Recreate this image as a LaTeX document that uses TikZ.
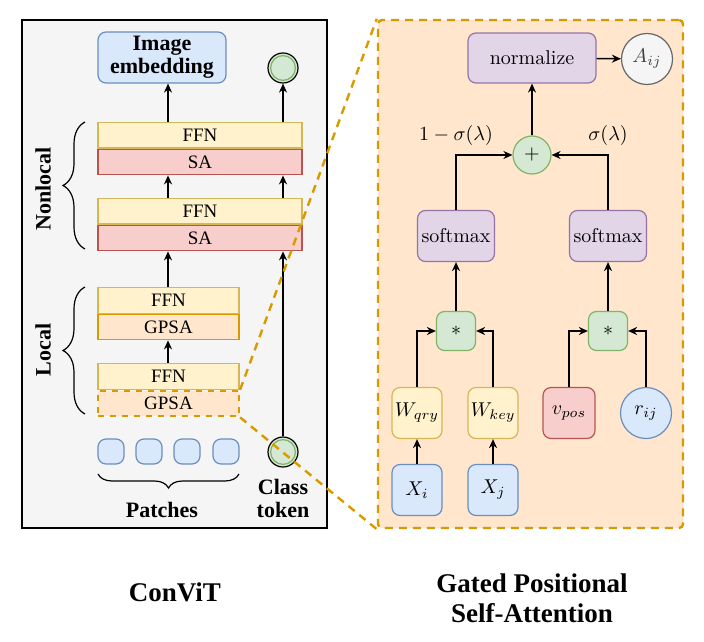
\documentclass[tikz,border=0pt]{standalone}
\usepackage{fontspec}
\newfontfamily\geo{Liberation Serif}
\usetikzlibrary{arrows.meta,decorations.pathreplacing}
\definecolor{ffnfill}{HTML}{FFF2CC}\definecolor{ffnline}{HTML}{D6B656}
\definecolor{safill}{HTML}{F8CECC}\definecolor{saline}{HTML}{B85450}
\definecolor{gpsafill}{HTML}{FFE6CC}\definecolor{gpsaline}{HTML}{D79B00}
\definecolor{bluefill}{HTML}{DAE8FC}\definecolor{blueline}{HTML}{6C8EBF}
\definecolor{tokfill}{HTML}{D5E8D4}\definecolor{tokline}{HTML}{82B366}
\definecolor{purpfill}{HTML}{E1D5E7}\definecolor{purpline}{HTML}{9673A6}
\definecolor{panelfill}{HTML}{F5F5F5}
\begin{document}
\begin{tikzpicture}[x=0.5pt,y=-0.5pt,
  every node/.style={inner sep=0pt},
  arr/.style={-{Stealth[length=4.5pt,width=4pt]},line width=0.7pt},
  blk/.style={draw,line width=0.6pt,anchor=north,minimum height=12.75pt,font=\geo\fontsize{9.5}{10}\selectfont},
  ffn/.style={blk,draw=ffnline,fill=ffnfill},
  sa/.style={blk,draw=saline,fill=safill},
  gpsa/.style={blk,draw=gpsaline,fill=gpsafill},
  lbl/.style={font=\geo\bfseries\fontsize{11}{11.5}\selectfont,align=center},
  tok/.style={circle,draw=black,line width=0.6pt,fill=tokfill,minimum size=15pt,
    path picture={\draw[tokline,line width=0.6pt] (path picture bounding box.center) circle (6.2pt);}},
  rbox/.style={draw,rounded corners=4pt,line width=0.6pt},
  purp/.style={rbox,draw=purpline,fill=purpfill},
  mul/.style={rbox,draw=tokline,fill=tokfill,minimum size=19.5pt},
  inp/.style={rbox,minimum width=25pt,minimum height=25.5pt},
  brc/.style={decorate,line width=0.6pt},
  zoomline/.style={draw=gpsaline,line width=1.2pt,dash pattern=on 4pt off 3pt}]
  \useasboundingbox (0,0) rectangle (704,641);
  \draw[fill=panelfill,line width=0.7pt] (22,20) rectangle (327,528);
  \coordinate (lx) at (168,0);
  \coordinate (rx) at (283,0);
  \node[rbox,draw=blueline,fill=bluefill,minimum width=64pt,minimum height=25.5pt,lbl] (imgemb) at (162,57.5) {Image\\embedding};
  \node[tok] (clsout) at (283,68) {};
  \node[ffn,minimum width=102pt] (ffnA) at (200,122) {FFN};
  \node[sa,minimum width=102pt] (saA) at (ffnA.south) {SA};
  \node[ffn,minimum width=102pt] (ffnB) at (200,198) {FFN};
  \node[sa,minimum width=102pt] (saB) at (ffnB.south) {SA};
  \node[ffn,minimum width=70.5pt] (ffnC) at (168.5,287) {FFN};
  \node[gpsa,minimum width=70.5pt] (gpsaC) at (ffnC.south) {GPSA};
  \node[ffn,minimum width=70.5pt] (ffnD) at (168.5,363) {FFN};
  \node[gpsa,minimum width=70.5pt,dashed,line width=1.1pt] (gpsaD) at (ffnD.south) {GPSA};
  \foreach \i/\x in {1/111,2/149,3/187,4/226}
    \node[rbox,draw=blueline,fill=bluefill,minimum width=13pt,minimum height=12.5pt] (p\i) at (\x,451.5) {};
  \node[tok] (clsin) at (283,452) {};
  \draw[arr] (ffnA.north -| lx) -- (imgemb.south -| lx);
  \draw[arr] (ffnA.north -| rx) -- (clsout.south);
  \draw[arr] (ffnB.north -| lx) -- (saA.south -| lx);
  \draw[arr] (ffnB.north -| rx) -- (saA.south -| rx);
  \draw[arr] (ffnC.north -| lx) -- (saB.south -| lx);
  \draw[arr] (ffnD.north -| lx) -- (gpsaC.south -| lx);
  \draw[arr] (clsin.north) -- (saB.south -| rx);
  \draw[brc,decoration={brace,amplitude=11pt}] (85,249) -- (85,122);
  \draw[brc,decoration={brace,amplitude=11pt}] (85,414) -- (85,287);
  \draw[brc,decoration={brace,amplitude=7pt}] (239,474) -- (98,474);
  \node[lbl,rotate=90] (nonlocal) at (43,189) {Nonlocal};
  \node[lbl,rotate=90] (local) at (43,350) {Local};
  \node[lbl] (patches) at (162,510) {Patches};
  \node[lbl] (clslbl) at (283,498.5) {Class\\token};
  \node[draw=gpsaline,fill=gpsafill,line width=1.2pt,dash pattern=on 4pt off 3pt,rounded corners=2pt,
    minimum width=152.5pt,minimum height=254pt] (gpsabox) at (530.5,274) {};
  \draw[zoomline] (gpsaD.north east) -- (gpsabox.north west);
  \draw[zoomline] (gpsaD.south east) -- (gpsabox.south west);
  \node[purp,minimum width=64pt,minimum height=25pt] (norm) at (532,58) {normalize};
  \node[circle,draw=black!60,fill=panelfill,line width=0.6pt,minimum size=25.5pt,text=black!75] (aij) at (647,59) {$A_{ij}$};
  \node[circle,draw=tokline,fill=tokfill,line width=0.6pt,minimum size=19pt] (plus) at (532,155) {$+$};
  \node[purp,minimum width=38.5pt,minimum height=25.5pt] (softL) at (456,236) {softmax};
  \node[purp,minimum width=38.5pt,minimum height=25.5pt] (softR) at (608,236) {softmax};
  \node[mul] (mulL) at (456,331) {$*$};
  \node[mul] (mulR) at (608,331) {$*$};
  \node[inp,draw=ffnline,fill=ffnfill] (wq) at (417,413) {$W_{qry}$};
  \node[inp,draw=ffnline,fill=ffnfill] (wk) at (493,413) {$W_{key}$};
  \node[inp,draw=saline,fill=safill,minimum width=26pt] (vpos) at (569,413) {$v_{pos}$};
  \node[circle,draw=blueline,fill=bluefill,line width=0.6pt,minimum size=25.5pt] (rij) at (646,413) {$r_{ij}$};
  \node[inp,draw=blueline,fill=bluefill] (xi) at (417,490) {$X_i$};
  \node[inp,draw=blueline,fill=bluefill] (xj) at (493,490) {$X_j$};
  \node (gl) at (456,136) {$1-\sigma(\lambda)$};
  \node (gr) at (608,136) {$\sigma(\lambda)$};
  \draw[arr] (xi) -- (wq);
  \draw[arr] (xj) -- (wk);
  \draw[arr] (wq.north) |- (mulL.west);
  \draw[arr] (wk.north) |- (mulL.east);
  \draw[arr] (vpos.north) |- (mulR.west);
  \draw[arr] (rij.north) |- (mulR.east);
  \draw[arr] (mulL) -- (softL);
  \draw[arr] (mulR) -- (softR);
  \draw[arr] (softL.north) |- (plus.west);
  \draw[arr] (softR.north) |- (plus.east);
  \draw[arr] (plus) -- (norm);
  \draw[arr] (norm) -- (aij);
  \node[font=\geo\bfseries\fontsize{13.5}{15}\selectfont] (convit) at (175,592) {ConViT};
  \node[font=\geo\bfseries\fontsize{13.5}{15}\selectfont,align=center] (gpsatitle) at (532,598) {Gated Positional\\Self-Attention};
\end{tikzpicture}
\end{document}
